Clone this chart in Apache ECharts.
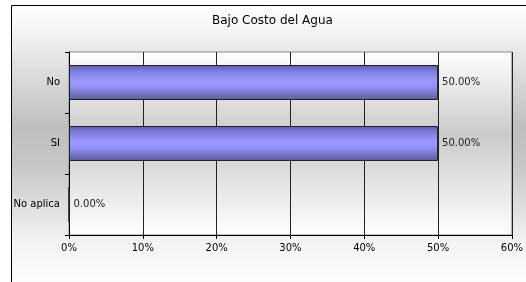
<!DOCTYPE html>
<html>
<head>
<meta charset="utf-8">
<script src="https://cdn.jsdelivr.net/npm/echarts@6/dist/echarts.min.js"></script>
<style>
  html, body { margin: 0; padding: 0; background: #fff; }
  #chart { width: 526px; height: 282px; }
</style>
</head>
<body>
<div id="chart"></div>
<script>
// datos
const categories = ['No aplica', 'SI', 'No'];
const values = [0, 50, 50];
const xTicks = [0, 10, 20, 30, 40, 50, 60];

const myChart = echarts.init(document.getElementById('chart'));
const font = 'DejaVu Sans, Arial, sans-serif';

myChart.setOption({
  animation: false,
  graphic: [
    {
      type: 'rect',
      z: -10,
      shape: { x: 11.5, y: 5.5, width: 530, height: 290 },
      style: {
        fill: new echarts.graphic.LinearGradient(0, 0, 0, 1, [
          { offset: 0, color: '#ffffff' },
          { offset: 0.1, color: '#f2f2f2' },
          { offset: 0.42, color: '#bebebe' },
          { offset: 0.55, color: '#c6c6c6' },
          { offset: 0.82, color: '#f4f4f4' },
          { offset: 1, color: '#ffffff' }
        ]),
        stroke: '#000',
        lineWidth: 1
      }
    },
    {
      type: 'text',
      left: 212,
      top: 15,
      style: {
        text: 'Bajo Costo del Agua',
        font: '12px DejaVu Sans',
        fill: '#000'
      }
    }
  ],
  grid: {
    left: 69,
    right: 14,
    top: 52,
    bottom: 47,
    show: true,
    borderColor: '#888',
    borderWidth: 1,
    backgroundColor: new echarts.graphic.LinearGradient(0, 0, 0, 1, [
      { offset: 0, color: '#ffffff' },
      { offset: 0.45, color: '#cacaca' },
      { offset: 1, color: '#ffffff' }
    ])
  },
  xAxis: {
    type: 'value',
    min: 0,
    max: 60,
    interval: 10,
    axisLine: { show: true, lineStyle: { color: '#000' } },
    axisTick: { show: true, length: 4, lineStyle: { color: '#000' } },
    axisLabel: {
      fontFamily: font, fontSize: 10, color: '#000', margin: 8,
      formatter: v => xTicks.includes(v) ? v + '%' : ''
    },
    splitLine: { show: true, lineStyle: { color: '#222', width: 1 } }
  },
  yAxis: {
    type: 'category',
    data: categories,
    axisLine: { show: true, lineStyle: { color: '#000' } },
    axisTick: { show: true, length: 4, lineStyle: { color: '#000' } },
    axisLabel: { fontFamily: font, fontSize: 10, color: '#000', margin: 9 },
    splitLine: { show: false }
  },
  series: [
    {
      type: 'bar',
      data: values,
      barWidth: 35,
      itemStyle: {
        color: new echarts.graphic.LinearGradient(0, 0, 0, 1, [
          { offset: 0, color: '#5c5ca8' },
          { offset: 0.15, color: '#7a7ad8' },
          { offset: 0.45, color: '#9999ff' },
          { offset: 0.6, color: '#9494f8' },
          { offset: 1, color: '#5a5a9c' }
        ]),
        borderColor: '#222',
        borderWidth: 1
      },
      label: {
        show: true,
        position: 'right',
        distance: 4,
        fontFamily: font,
        fontSize: 10,
        color: '#222',
        formatter: p => p.value.toFixed(2) + '%'
      }
    }
  ]
});
</script>
</body>
</html>
